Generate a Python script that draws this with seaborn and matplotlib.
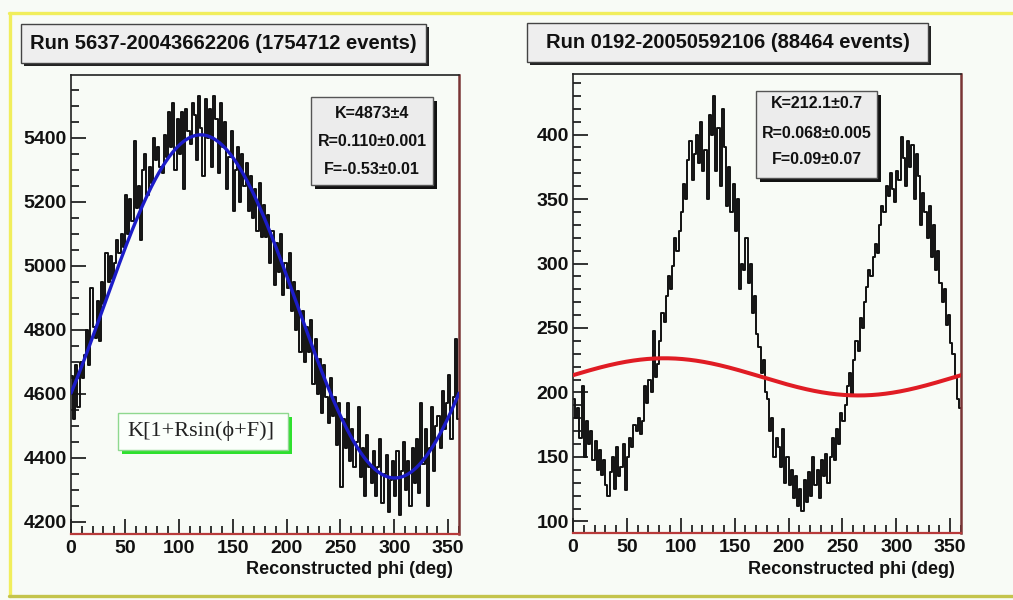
import numpy as np
import pandas as pd
import matplotlib
matplotlib.use("Agg")
import matplotlib.pyplot as plt
import seaborn as sns
from matplotlib.patches import Rectangle
from matplotlib.lines import Line2D
from matplotlib.ticker import MultipleLocator

# ---------------- data ----------------
BIN_WIDTH = 2  # degrees

left_counts = [
    4655, 4520, 4690, 4560, 4700, 4650, 4720, 4800, 4690, 4930,
    4810, 4775, 4890, 4765, 4950, 4880, 5040, 4950, 5030, 4960,
    5010, 5080, 5040, 5100, 5060, 5220, 5100, 5210, 5140, 5390,
    5180, 5250, 5080, 5300, 5350, 5220, 5310, 5260, 5400, 5330,
    5370, 5310, 5290, 5410, 5340, 5480, 5370, 5510, 5300, 5460,
    5350, 5480, 5240, 5490, 5420, 5380, 5510, 5470, 5330, 5530,
    5430, 5280, 5520, 5400, 5490, 5310, 5530, 5460, 5290, 5510,
    5370, 5450, 5240, 5340, 5420, 5170, 5300, 5370, 5200, 5350,
    5250, 5320, 5170, 5280, 5150, 5240, 5110, 5260, 5090, 5190,
    5090, 5160, 5010, 5110, 4940, 5070, 4980, 5100, 4910, 5010,
    4930, 5040, 4860, 4950, 4800, 4920, 4730, 4860, 4700, 4810,
    4730, 4830, 4630, 4770, 4600, 4710, 4540, 4690, 4590, 4510,
    4650, 4530, 4590, 4440, 4570, 4310, 4520, 4430, 4570, 4390,
    4490, 4370, 4450, 4560, 4340, 4430, 4280, 4470, 4370, 4320,
    4420, 4280, 4370, 4460, 4260, 4350, 4410, 4230, 4330, 4390,
    4280, 4420, 4220, 4360, 4450, 4300, 4390, 4250, 4430, 4320,
    4460, 4290, 4570, 4380, 4490, 4250, 4430, 4560, 4360, 4500,
    4530, 4430, 4610, 4490, 4570, 4660, 4460, 4590, 4770, 4520,
]

right_counts = [
    195, 180, 188, 165, 205, 150, 178, 160, 170, 148,
    162, 140, 155, 136, 148, 128, 120, 138, 150, 125,
    158, 135, 142, 160, 124, 150, 165, 158, 175, 170,
    180, 168, 178, 205, 192, 210, 200, 248, 212, 222,
    240, 262, 255, 275, 290, 280, 298, 320, 310, 325,
    340, 362, 350, 380, 395, 365, 385, 400, 378, 410,
    372, 388, 350, 415, 400, 430, 372, 405, 360, 420,
    390, 345, 375, 340, 362, 325, 350, 280, 300, 295,
    320, 285, 300, 262, 275, 245, 235, 215, 225, 200,
    195, 170, 180, 150, 165, 158, 142, 172, 130, 150,
    128, 140, 118, 135, 112, 125, 108, 132, 115, 138,
    120, 150, 128, 140, 118, 148, 135, 152, 130, 150,
    165, 148, 172, 160, 184, 178, 190, 205, 215, 198,
    225, 240, 232, 258, 250, 270, 282, 295, 290, 305,
    315, 308, 330, 345, 340, 360, 352, 370, 358, 348,
    372, 365, 398, 382, 360, 395, 375, 392, 350, 385,
    368, 330, 355, 340, 320, 345, 305, 330, 295, 310,
    285, 270, 280, 252, 260, 238, 230, 212, 195, 188,
]

left_title = "Run 5637-20043662206 (1754712 events)"
right_title = "Run 0192-20050592106 (88464 events)"
left_fit = {"K": 4873, "R": 0.110, "F": -0.53}
right_fit = {"K": 212.1, "R": 0.068, "F": 0.09}
left_stats = ["K=4873\u00b14", "R=0.110\u00b10.001", "F=-0.53\u00b10.01"]
right_stats = ["K=212.1\u00b10.7", "R=0.068\u00b10.005", "F=0.09\u00b10.07"]
x_label = "Reconstructed phi (deg)"
formula_text = "K[1+Rsin(\u03d5+F)]"

left_yticks = [4200, 4400, 4600, 4800, 5000, 5200, 5400]
right_yticks = [100, 150, 200, 250, 300, 350, 400]
x_ticks = [0, 50, 100, 150, 200, 250, 300, 350]

# ---------------- style ----------------
sns.set_theme(style="white")
plt.rcParams["font.family"] = ["Liberation Sans", "DejaVu Sans"]

W, H = 1013, 600
BG = "#f8fbf6"
fig = plt.figure(figsize=(W / 100, H / 100), dpi=100, facecolor=BG)


def fx(px):
    return px / W


def fy(py):
    return 1 - py / H


def add_box(x0, y0, x1, y1, face, edge, shadow, off=3, lw=1.0, shadow_color="#222222"):
    if shadow:
        fig.add_artist(Rectangle((fx(x0 + off), fy(y1 + off)), fx(x1 - x0), (y1 - y0) / H,
                                 transform=fig.transFigure, facecolor=shadow_color,
                                 edgecolor="none", zorder=6))
    fig.add_artist(Rectangle((fx(x0), fy(y1)), fx(x1 - x0), (y1 - y0) / H,
                             transform=fig.transFigure, facecolor=face,
                             edgecolor=edge, linewidth=lw, zorder=7))


def make_panel(rect_px, counts, fit, ylim, yticks, yminor, fit_color, fit_lw):
    x0, y0, x1, y1 = rect_px
    ax = fig.add_axes([fx(x0), fy(y1), fx(x1 - x0), (y1 - y0) / H])
    ax.set_facecolor(BG)
    n = len(counts)
    centers = np.arange(n) * BIN_WIDTH + BIN_WIDTH / 2
    df = pd.DataFrame({"phi": centers, "count": np.asarray(counts, dtype=float)})
    sns.histplot(data=df, x="phi", weights="count", binwidth=BIN_WIDTH,
                 binrange=(0, n * BIN_WIDTH), element="step",
                 fill=False, color="#111111", linewidth=1.4, ax=ax)
    phi = np.linspace(0, 360, 721)
    fdf = pd.DataFrame({"phi": phi,
                        "fit": fit["K"] * (1 + fit["R"] * np.sin(np.radians(phi) + fit["F"]))})
    sns.lineplot(data=fdf, x="phi", y="fit", color=fit_color, linewidth=fit_lw, ax=ax, zorder=5)
    ax.set_xlim(0, 360)
    ax.set_ylim(*ylim)
    ax.set_ylabel("")
    ax.set_xticks(x_ticks)
    ax.set_yticks(yticks)
    ax.xaxis.set_minor_locator(MultipleLocator(10))
    ax.yaxis.set_minor_locator(MultipleLocator(yminor))
    ax.tick_params(axis="both", which="both", direction="in", top=False, right=False,
                   left=True, bottom=True, colors="#111111", width=1.2)
    ax.tick_params(axis="x", which="major", length=11, pad=4)
    ax.tick_params(axis="x", which="minor", length=6)
    ax.tick_params(axis="y", which="major", length=11, pad=3)
    ax.tick_params(axis="y", which="minor", length=6)
    for lab in ax.get_xticklabels() + ax.get_yticklabels():
        lab.set_fontweight("bold")
        lab.set_fontsize(14)
        lab.set_color("#111111")
    ax.set_xlabel(x_label, fontsize=13, fontweight="bold", color="#111111")
    ax.xaxis.set_label_coords((x1 - 6 - x0) / (x1 - x0), -(570 - y1) / (y1 - y0))
    ax.xaxis.label.set_ha("right")
    ax.xaxis.label.set_va("center")
    for s in ["top", "left"]:
        ax.spines[s].set_color("#222222")
        ax.spines[s].set_linewidth(1.2)
    ax.spines["right"].set_color("#7a3535")
    ax.spines["right"].set_linewidth(1.8)
    ax.spines["bottom"].set_color("#b83a3a")
    ax.spines["bottom"].set_linewidth(1.6)
    return ax


axL = make_panel((71, 75, 459, 534), left_counts, left_fit, (4162, 5596),
                 left_yticks, 50, "#1c1cc8", 2.4)
axR = make_panel((573, 74, 961, 533), right_counts, right_fit, (91, 447),
                 right_yticks, 10, "#e01c24", 2.9)

# ---------------- titles ----------------
add_box(21, 24, 426, 63, "#eeeeee", "#444444", True, off=3)
fig.text(fx(223.5), fy(43.5), left_title, ha="center", va="center", fontsize=14.5,
         fontweight="bold", color="#111111", zorder=10)
add_box(527, 23, 928, 62, "#eeeeee", "#444444", True, off=3)
fig.text(fx(727.5), fy(42.5), right_title, ha="center", va="center", fontsize=14.5,
         fontweight="bold", color="#111111", zorder=10)

# ---------------- stats boxes ----------------
add_box(311, 97, 433, 185, "#ececec", "#555555", True, off=4, shadow_color="#111111")
for txt, yy in zip(left_stats, [113, 142, 169]):
    fig.text(fx(372), fy(yy), txt, ha="center", va="center", fontsize=11.5,
             fontweight="bold", color="#111111", zorder=10)
add_box(756, 91, 877, 178, "#ececec", "#555555", True, off=4, shadow_color="#111111")
for txt, yy in zip(right_stats, [104, 133, 160]):
    fig.text(fx(816.5), fy(yy), txt, ha="center", va="center", fontsize=11.5,
             fontweight="bold", color="#111111", zorder=10)

# ---------------- formula box ----------------
add_box(118, 413, 288, 450, "#fbfffb", "#8fd88f", True, off=4, shadow_color="#2ee02e")
fig.text(fx(201), fy(431), formula_text, ha="center", va="center", fontsize=16,
         family=["Liberation Serif", "DejaVu Serif"], color="#222222", zorder=10)

# ---------------- outer frame ----------------
fig.add_artist(Line2D([fx(9), 1.0], [fy(13), fy(13)], transform=fig.transFigure,
                      color="#f1ee5c", linewidth=2.4, zorder=8))
fig.add_artist(Line2D([fx(10), fx(10)], [fy(13), fy(596)], transform=fig.transFigure,
                      color="#f1ee5c", linewidth=2.4, zorder=8))
fig.add_artist(Line2D([fx(9), 1.0], [fy(596), fy(596)], transform=fig.transFigure,
                      color="#c4c44c", linewidth=2.4, zorder=8))

fig.savefig("out.png", dpi=100, facecolor=BG)
